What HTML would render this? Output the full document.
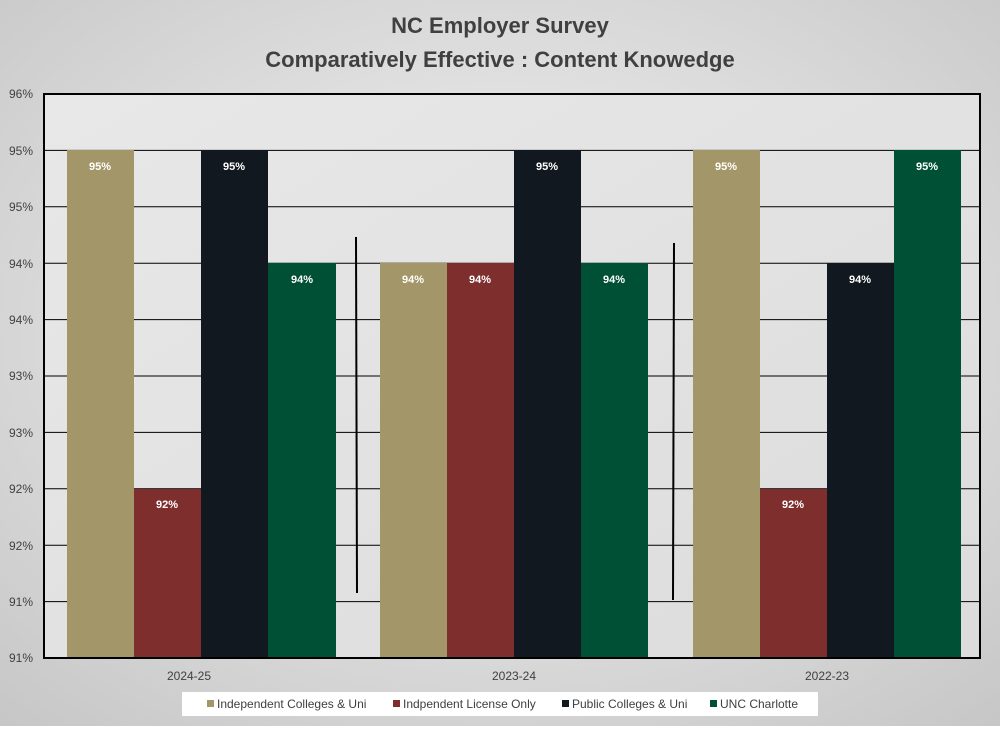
<!DOCTYPE html>
<html><head><style>
html,body{margin:0;padding:0;}
body{width:1000px;height:726px;overflow:hidden;}
svg text{font-family:"Liberation Sans",sans-serif;}
</style></head><body>
<svg width="1000" height="726" viewBox="0 0 1000 726" xmlns="http://www.w3.org/2000/svg">
<defs>
<radialGradient id="bg" cx="50%" cy="45%" r="75%">
<stop offset="0" stop-color="#f4f4f4"/><stop offset="1" stop-color="#c6c6c6"/>
</radialGradient>
<linearGradient id="pa" x1="0" y1="0" x2="1" y2="1">
<stop offset="0" stop-color="#e8e8e8"/><stop offset="1" stop-color="#dcdcdc"/>
</linearGradient>
</defs>
<rect width="1000" height="726" fill="url(#bg)"/>
<text x="500" y="33" text-anchor="middle" font-size="22" font-weight="bold" fill="#404040">NC Employer Survey</text>
<text x="500" y="67" text-anchor="middle" font-size="22" font-weight="bold" fill="#404040">Comparatively Effective : Content Knowedge</text>
<rect x="44" y="94" width="936" height="564" fill="url(#pa)"/>
<g stroke="#000" stroke-width="1">
<line x1="44" y1="150.4" x2="980" y2="150.4"/><line x1="44" y1="206.8" x2="980" y2="206.8"/>
<line x1="44" y1="263.2" x2="980" y2="263.2"/><line x1="44" y1="319.6" x2="980" y2="319.6"/>
<line x1="44" y1="376" x2="980" y2="376"/><line x1="44" y1="432.4" x2="980" y2="432.4"/>
<line x1="44" y1="488.8" x2="980" y2="488.8"/><line x1="44" y1="545.2" x2="980" y2="545.2"/>
<line x1="44" y1="601.6" x2="980" y2="601.6"/>
</g>
<g font-size="12" fill="#404040" text-anchor="end">
<text x="33" y="98">96%</text><text x="33" y="155">95%</text><text x="33" y="211">95%</text>
<text x="33" y="268">94%</text><text x="33" y="324">94%</text><text x="33" y="380">93%</text>
<text x="33" y="437">93%</text><text x="33" y="493">92%</text><text x="33" y="550">92%</text>
<text x="33" y="606">91%</text><text x="33" y="662">91%</text>
</g>
<g>
<rect x="67" y="150" width="67" height="508" fill="#a39669"/>
<rect x="134" y="489" width="67" height="169" fill="#7f2e2e"/>
<rect x="201" y="150" width="67" height="508" fill="#111820"/>
<rect x="268" y="263" width="68" height="395" fill="#005035"/>
<rect x="380" y="263" width="67" height="395" fill="#a39669"/>
<rect x="447" y="263" width="67" height="395" fill="#7f2e2e"/>
<rect x="514" y="150" width="67" height="508" fill="#111820"/>
<rect x="581" y="263" width="67" height="395" fill="#005035"/>
<rect x="693" y="150" width="67" height="508" fill="#a39669"/>
<rect x="760" y="489" width="67" height="169" fill="#7f2e2e"/>
<rect x="827" y="263" width="67" height="395" fill="#111820"/>
<rect x="894" y="150" width="67" height="508" fill="#005035"/>
</g>
<g font-size="11" font-weight="bold" fill="#fff" text-anchor="middle">
<text x="100" y="170">95%</text><text x="167" y="508">92%</text><text x="234" y="170">95%</text><text x="302" y="283">94%</text>
<text x="413" y="283">94%</text><text x="480" y="283">94%</text><text x="547" y="170">95%</text><text x="614" y="283">94%</text>
<text x="726" y="170">95%</text><text x="793" y="508">92%</text><text x="860" y="283">94%</text><text x="927" y="170">95%</text>
</g>
<line x1="356" y1="237" x2="357" y2="593" stroke="#000" stroke-width="2"/>
<line x1="674" y1="243" x2="673" y2="600" stroke="#000" stroke-width="2"/>
<rect x="44" y="94" width="936" height="564" fill="none" stroke="#000" stroke-width="2"/>
<g font-size="12" fill="#404040" text-anchor="middle">
<text x="189" y="680">2024-25</text><text x="514" y="680">2023-24</text><text x="827" y="680">2022-23</text>
</g>
<rect x="182" y="692" width="636" height="24" fill="#fff"/>
<g font-size="12" fill="#404040">
<rect x="207" y="700" width="7" height="7" fill="#a39669"/><text x="217" y="708">Independent Colleges &amp; Uni</text>
<rect x="393" y="700" width="7" height="7" fill="#7f2e2e"/><text x="403" y="708">Indpendent License Only</text>
<rect x="562" y="700" width="7" height="7" fill="#111820"/><text x="572" y="708">Public Colleges &amp; Uni</text>
<rect x="710" y="700" width="7" height="7" fill="#005035"/><text x="720" y="708">UNC Charlotte</text>
</g>
</svg>
</body></html>
